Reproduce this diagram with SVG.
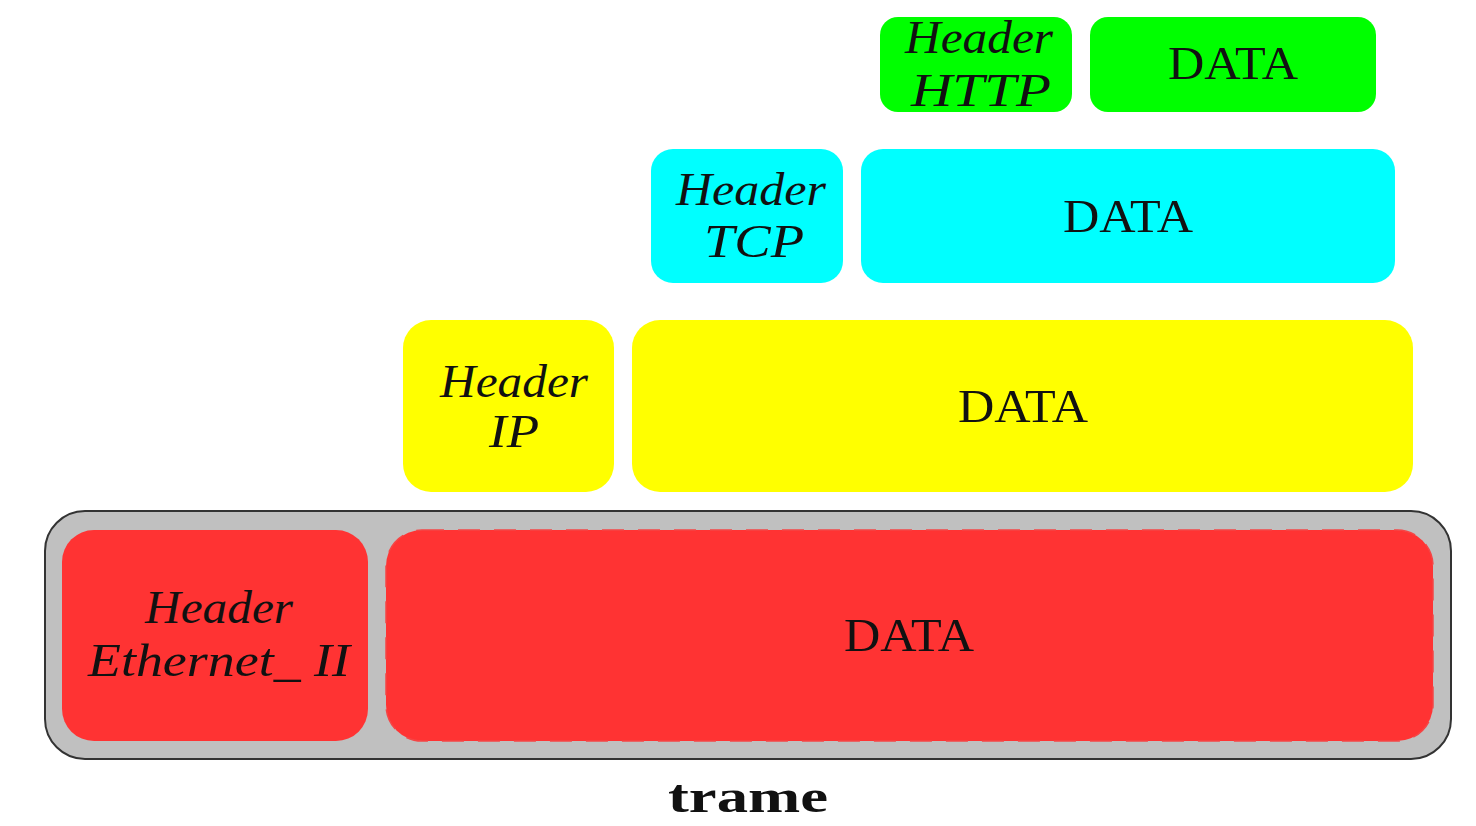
<svg xmlns="http://www.w3.org/2000/svg" width="1476" height="826" viewBox="0 0 1476 826">
<style>
.t{font-family:"Liberation Serif","Times New Roman",serif;font-size:46px;fill:#111;text-anchor:middle}
.i{font-style:italic}
.red{fill:#ff3333}
.yel{fill:#ffff00}
.cya{fill:#00ffff}
.grn{fill:#00ff00}
</style>
<rect width="1476" height="826" fill="#ffffff"/>
<g id="trame">
<rect x="45" y="511" width="1406" height="248" rx="40" ry="40" fill="#c0c0c0" stroke="#333" stroke-width="2"/>
<text class="t" x="748" y="812" font-weight="bold" font-size="52" textLength="160" lengthAdjust="spacingAndGlyphs">trame</text>
</g>
<g id="eth-header">
<rect class="red" x="62" y="530" width="306" height="211" rx="32"/>
<text class="t i" x="219" y="623" textLength="148" lengthAdjust="spacingAndGlyphs">Header</text>
<text class="t i" x="219" y="676" textLength="262" lengthAdjust="spacingAndGlyphs">Ethernet_ II</text>
</g>
<g id="eth-data">
<rect class="red" x="386" y="530" width="1047" height="211" rx="36" stroke="#f54545" stroke-width="1.5" stroke-dasharray="22 14"/>
<text class="t" x="909" y="651" textLength="130" lengthAdjust="spacingAndGlyphs">DATA</text>
</g>
<g id="ip-header">
<rect class="yel" x="403" y="320" width="211" height="172" rx="28"/>
<text class="t i" x="514" y="397" textLength="148" lengthAdjust="spacingAndGlyphs">Header</text>
<text class="t i" x="514" y="447" textLength="50" lengthAdjust="spacingAndGlyphs">IP</text>
</g>
<g id="ip-data">
<rect class="yel" x="632" y="320" width="781" height="172" rx="28"/>
<text class="t" x="1023" y="422" textLength="130" lengthAdjust="spacingAndGlyphs">DATA</text>
</g>
<g id="tcp-header">
<rect class="cya" x="651" y="149" width="192" height="134" rx="22"/>
<text class="t i" x="751" y="205" textLength="150" lengthAdjust="spacingAndGlyphs">Header</text>
<text class="t i" x="754" y="257" textLength="100" lengthAdjust="spacingAndGlyphs">TCP</text>
</g>
<g id="tcp-data">
<rect class="cya" x="861" y="149" width="534" height="134" rx="22"/>
<text class="t" x="1128" y="232" textLength="130" lengthAdjust="spacingAndGlyphs">DATA</text>
</g>
<g id="http-header">
<rect class="grn" x="880" y="17" width="192" height="95" rx="18"/>
<text class="t i" x="979" y="53" textLength="148" lengthAdjust="spacingAndGlyphs">Header</text>
<text class="t i" x="981" y="106" textLength="140" lengthAdjust="spacingAndGlyphs">HTTP</text>
</g>
<g id="http-data">
<rect class="grn" x="1090" y="17" width="286" height="95" rx="18"/>
<text class="t" x="1233" y="79" textLength="130" lengthAdjust="spacingAndGlyphs">DATA</text>
</g>
<g id="connectors"></g>
</svg>
